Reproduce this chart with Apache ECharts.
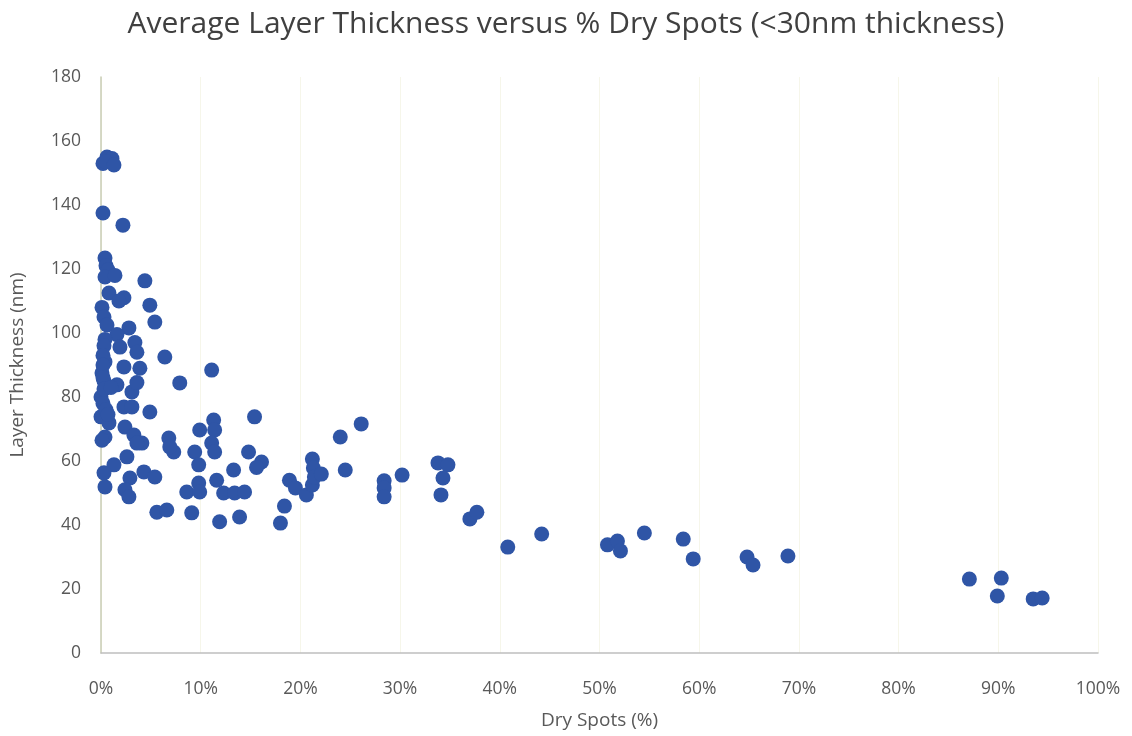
<!DOCTYPE html>
<html><head><meta charset="utf-8">
<script src="https://cdn.jsdelivr.net/npm/echarts@6/dist/echarts.min.js"></script>
<style>html,body{margin:0;padding:0;background:#fff}#c{width:1132px;height:736px}</style>
</head><body><div id="c"></div>
<script>
const titleText = 'Average Layer Thickness versus % Dry Spots (<30nm thickness)';
const xName = 'Dry Spots (%)';
const yName = 'Layer Thickness (nm)';
// Dry spots (%)
const drySpots = [
 0.2,0.6,1.1,0.5,1.3, 0.2,2.2,
 0.4,0.5,0.7,0.4,1.4,4.4,
 0.8,2.3,1.8,4.9,0.1,0.3,5.4,0.6,2.8,1.6,0.4,3.4,
 0.3,1.9,3.6,6.4,0.4,2.3,3.9,0.1,0.3,1.6,3.1,3.6,0.0,2.3,3.1,4.9,0.0,0.8,2.4,3.3,4.1,0.4,
 0.2,0.2,0.2,0.3,0.2,0.5,0.7,1.0,
 11.1,7.9,15.4,9.9,11.3,11.4,6.8,7.3,9.4,9.8,11.1,11.4,14.8,16.1,15.6,13.3,11.6,
 0.1,3.6,6.9,2.6,1.3,0.3,2.9,4.3,5.4,0.4,2.4,2.8,8.6,9.8,9.9,12.3,13.4,14.4,
 5.6,6.6,9.1,11.9,13.9,
 18.0,18.4,18.9,19.5,20.6,21.2,21.3,21.2,21.4,22.1,24.0,24.5,26.1,
 28.4,28.4,28.4,30.2,33.8,34.8,34.3,34.1,37.0,37.7,40.8,44.2,
 50.8,51.8,52.1,54.5,58.4,59.4,64.8,65.4,68.9,87.1,90.3,89.9,93.5,94.4
];
// Layer thickness (nm)
const thickness = [
 153,155,154.5,153.5,152.5, 137.5,133.7,
 123.4,121,119.7,117.5,118,116.3,
 112.5,111,110,108.7,108,105,103.4,102.5,101.6,99.5,98,97,
 96,95.6,94,92.5,91,89.4,89,87.5,85,83.8,81.6,84.5,80,76.9,76.9,75.3,73.8,71.9,70.6,68.1,65.6,67.5,
 93,90,86,82.5,78,76,74.5,83,
 88.4,84.4,73.8,69.7,72.8,69.7,67.2,62.8,62.8,58.8,65.6,62.8,62.8,59.7,58,57.2,54,
 66.5,65.6,64.4,61.3,58.8,56.3,54.7,56.6,55,51.9,51,48.8,50.3,53.1,50.3,50,50,50.3,
 44,44.7,43.8,41,42.5,
 40.6,45.9,54,51.6,49.4,60.6,57.8,52.5,55,55.9,67.5,57.2,71.6,
 53.8,51.6,48.8,55.6,59.4,58.8,54.7,49.4,41.9,44,33.1,37.2,
 33.8,35,31.9,37.5,35.6,29.4,30,27.5,30.3,23.1,23.4,17.8,16.9,17.2
];
const points = drySpots.map((x, i) => [x, thickness[i]]);
const chart = echarts.init(document.getElementById('c'));
const font = '"Open Sans", "Noto Sans", sans-serif';
chart.setOption({
  animation: false,
  title: { text: titleText, left: 'center', top: 4,
    textStyle: { fontFamily: font, fontSize: 30, fontWeight: 'normal', color: '#404040' } },
  grid: { left: 99, right: 34, top: 77, bottom: 83 },
  xAxis: {
    type: 'value', min: 0, max: 100, interval: 10,
    name: xName, nameLocation: 'middle', nameGap: 58,
    nameTextStyle: { fontFamily: font, fontSize: 19, color: '#595959' },
    axisLine: { show: true, lineStyle: { color: '#bfbfbf', width: 1.5 } },
    axisTick: { show: false },
    axisLabel: { formatter: '{value}%', margin: 27, fontFamily: font, fontSize: 17.5, color: '#595959' },
    splitLine: { show: true, lineStyle: { color: '#f6f6ea', width: 1 } }
  },
  yAxis: {
    type: 'value', min: 0, max: 180, interval: 20,
    name: yName, nameLocation: 'middle', nameGap: 74, nameRotate: 90,
    nameTextStyle: { fontFamily: font, fontSize: 19, color: '#595959' },
    axisLine: { show: true, lineStyle: { color: '#c8ccb4', width: 1.5 } },
    axisTick: { show: false },
    axisLabel: { margin: 20, fontFamily: font, fontSize: 17.5, color: '#595959' },
    splitLine: { show: false }
  },
  series: [{
    type: 'scatter', data: points, symbolSize: 15,
    itemStyle: { color: '#2F55A6', opacity: 1 }
  }]
});
</script></body></html>
